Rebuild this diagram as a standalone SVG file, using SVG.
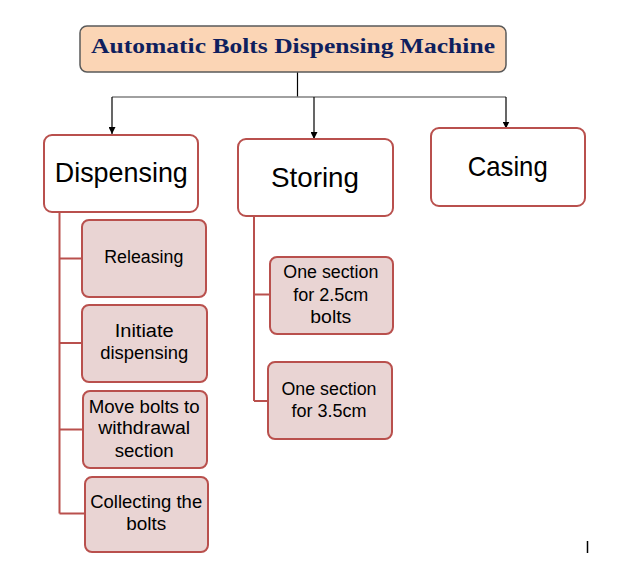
<svg xmlns="http://www.w3.org/2000/svg" width="623" height="582" viewBox="0 0 623 582">
<defs>
<marker id="arr" viewBox="0 0 10 10" refX="10" refY="5" markerWidth="7" markerHeight="7" markerUnits="userSpaceOnUse" orient="auto">
<path d="M0,0 L10,5 L0,10 z" fill="#000"/>
</marker>
<style>
.main{fill:#fff;stroke:#B9504D;stroke-width:2}
.sub{fill:#E9D4D3;stroke:#B9504D;stroke-width:2}
.t{font-family:"Liberation Sans",Arial,sans-serif;fill:#000;text-anchor:middle}
.big{font-size:28px}
.sm{font-size:18px}
.tree{fill:none;stroke:#B9504D;stroke-width:2}
</style>
</defs>
<rect width="623" height="582" fill="#fff"/>
<g id="connectors">
<line x1="297.5" y1="72" x2="297.5" y2="97" stroke="#000" stroke-width="1.2"/>
<line x1="112" y1="97" x2="506" y2="97" stroke="#808080" stroke-width="1.5"/>
<line x1="112" y1="97" x2="112" y2="134" stroke="#000" stroke-width="1.2" marker-end="url(#arr)"/>
<line x1="314" y1="97" x2="314" y2="139" stroke="#000" stroke-width="1.2" marker-end="url(#arr)"/>
<line x1="506" y1="97" x2="506" y2="128.5" stroke="#000" stroke-width="1.2" marker-end="url(#arr)"/>
<path class="tree" d="M59.5,212 V513.5 M59.5,258.5 H82 M59.5,343 H82 M59.5,429.5 H83 M59.5,513.5 H85"/>
<path class="tree" d="M254,216 V401 M254,294.5 H270 M254,401 H268"/>
</g>
<g id="title">
<rect x="80" y="26" width="426" height="46" rx="7" fill="#FBD5B5" stroke="#595959" stroke-width="1.5"/>
<text x="293" y="53" font-family="'Liberation Serif','Times New Roman',serif" font-size="21" font-weight="bold" fill="#0F1F5E" text-anchor="middle" textLength="404" lengthAdjust="spacingAndGlyphs">Automatic Bolts Dispensing Machine</text>
</g>
<g id="dispensing">
<rect class="main" x="44" y="135" width="154" height="77" rx="8"/>
<text class="t big" x="121.3" y="181.7" textLength="133" lengthAdjust="spacingAndGlyphs">Dispensing</text>
</g>
<g id="storing">
<rect class="main" x="238" y="139" width="155" height="77" rx="8"/>
<text class="t big" x="315" y="186.7" textLength="88" lengthAdjust="spacingAndGlyphs">Storing</text>
</g>
<g id="casing">
<rect class="main" x="431" y="128" width="154" height="78" rx="8"/>
<text class="t big" x="507.7" y="175.7" textLength="80" lengthAdjust="spacingAndGlyphs">Casing</text>
</g>
<g id="releasing">
<rect class="sub" x="82" y="220" width="124" height="77" rx="7"/>
<text class="t sm" x="143.8" y="263" textLength="79" lengthAdjust="spacingAndGlyphs">Releasing</text>
</g>
<g id="initiate">
<rect class="sub" x="82" y="305" width="125" height="77" rx="7"/>
<text class="t sm" x="144.2" y="337.3" textLength="59" lengthAdjust="spacingAndGlyphs">Initiate</text>
<text class="t sm" x="144.2" y="359.3" textLength="88" lengthAdjust="spacingAndGlyphs">dispensing</text>
</g>
<g id="move">
<rect class="sub" x="83" y="391" width="124" height="77" rx="7"/>
<text class="t sm" x="144.2" y="412.7" textLength="111" lengthAdjust="spacingAndGlyphs">Move bolts to</text>
<text class="t sm" x="144.2" y="434" textLength="92" lengthAdjust="spacingAndGlyphs">withdrawal</text>
<text class="t sm" x="144.2" y="456.7" textLength="59" lengthAdjust="spacingAndGlyphs">section</text>
</g>
<g id="collecting">
<rect class="sub" x="85" y="477" width="123" height="75" rx="7"/>
<text class="t sm" x="146.2" y="508.3" textLength="112" lengthAdjust="spacingAndGlyphs">Collecting the</text>
<text class="t sm" x="146.2" y="530" textLength="40" lengthAdjust="spacingAndGlyphs">bolts</text>
</g>
<g id="sec25">
<rect class="sub" x="270" y="257" width="123" height="77" rx="7"/>
<text class="t sm" x="330.8" y="278.3" textLength="95" lengthAdjust="spacingAndGlyphs">One section</text>
<text class="t sm" x="330.8" y="300.7" textLength="75" lengthAdjust="spacingAndGlyphs">for 2.5cm</text>
<text class="t sm" x="330.8" y="322.7" textLength="41" lengthAdjust="spacingAndGlyphs">bolts</text>
</g>
<g id="sec35">
<rect class="sub" x="268" y="362" width="124" height="77" rx="7"/>
<text class="t sm" x="329" y="395" textLength="95" lengthAdjust="spacingAndGlyphs">One section</text>
<text class="t sm" x="329" y="416.7" textLength="75" lengthAdjust="spacingAndGlyphs">for 3.5cm</text>
</g>
<line x1="587.5" y1="541" x2="587.5" y2="553" stroke="#000" stroke-width="1.5"/>
</svg>
